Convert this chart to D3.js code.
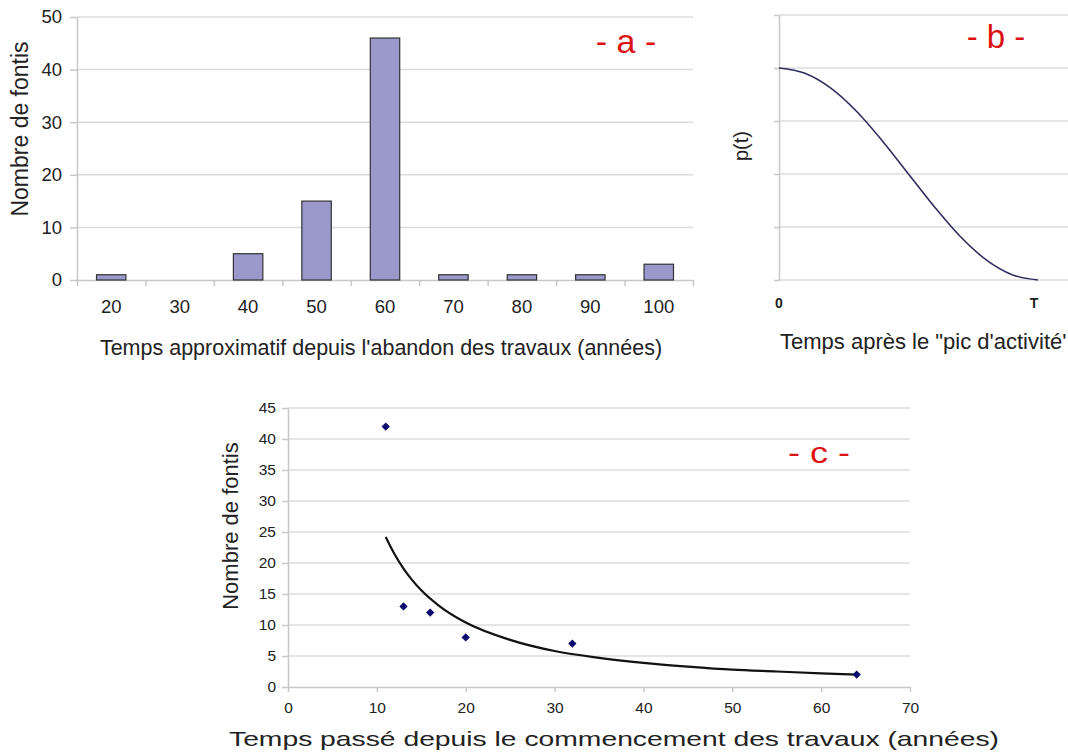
<!DOCTYPE html>
<html><head><meta charset="utf-8">
<script src="https://cdn.jsdelivr.net/npm/d3@7"></script>
<style>
body{margin:0;background:#fff;}
svg{display:block;font-family:"Liberation Sans",Arial,sans-serif;}
</style></head>
<body><svg id="c" width="1068" height="754"></svg>
<script>
// ---- Panel a data ----
const catsA = ["20","30","40","50","60","70","80","90","100"];
const valsA = [1,0,5,15,46,1,1,1,3];
const yTicksA = [0,10,20,30,40,50];
// ---- Panel b data ----
const tB = [0,0.1,0.2,0.3,0.4,0.5,0.6,0.7,0.8,0.9,1.0];
const pB = [4.0,3.9,3.62,3.18,2.62,2.0,1.38,0.82,0.38,0.1,0.0];
const yGridB = [0,1,2,3,4,5];
const xLabelsB = ["0","T"];
// ---- Panel c data ----
const ptsCx = [11,13,16,20,32,64];
const ptsCy = [42,13,12,8,7,2];
const fitCx = [11,12,13,14,15,17,20,25,30,35,40,45,50,55,60,64];
const fitCy = [24.2,21.4,19.1,17.2,15.6,13.1,10.4,7.6,5.8,4.7,3.9,3.3,2.8,2.5,2.2,2.0];
const xTicksC = [0,10,20,30,40,50,60,70];
const yTicksC = [0,5,10,15,20,25,30,35,40,45];

const svg = d3.select("#c");
svg.append("rect").attr("width",1068).attr("height",754).attr("fill","#fff");
const GRID="#dcdcdc", AX="#c8c8c8";

function styleAxis(g){
  g.selectAll("path.domain").attr("stroke",AX).attr("stroke-width",1.5);
  g.selectAll(".tick line").attr("stroke",AX).attr("stroke-width",1.5);
  g.selectAll("text").attr("fill","#222").attr("font-family","Liberation Sans, Arial, sans-serif");
}

// ================= Panel a =================
{
  const x0=77,x1=693,yb=280,yt=17;
  const x = d3.scaleBand().domain(catsA).range([x0,x1]).paddingInner(0.57).paddingOuter(0.285);
  const y = d3.scaleLinear().domain([0,50]).range([yb,yt]);
  const g = svg.append("g");
  g.selectAll("line.grid").data(yTicksA.slice(1)).join("line")
    .attr("x1",x0).attr("x2",x1).attr("y1",d=>y(d)).attr("y2",d=>y(d))
    .attr("stroke",GRID).attr("stroke-width",1.5);
  const ya = g.append("g").attr("transform",`translate(${x0},0)`)
    .call(d3.axisLeft(y).tickValues(yTicksA).tickSize(7).tickPadding(8).tickSizeOuter(0));
  styleAxis(ya); ya.selectAll("text").attr("font-size",18.5);
  const bnd = d3.scaleLinear().domain([0,catsA.length]).range([x0,x1]);
  const xb = g.append("g").attr("transform",`translate(0,${yb})`)
    .call(d3.axisBottom(bnd).tickValues(d3.range(catsA.length+1)).tickFormat("").tickSize(6).tickSizeOuter(0));
  styleAxis(xb);
  const xl = g.append("g").attr("transform",`translate(0,${yb})`)
    .call(d3.axisBottom(x).tickSize(0).tickPadding(20));
  xl.select("path.domain").remove();
  xl.selectAll("text").attr("font-size",18.5).attr("fill","#222");
  g.selectAll("rect.bar").data(catsA.map((c,i)=>({c,v:valsA[i]})).filter(d=>d.v>0)).join("rect")
    .attr("x",d=>x(d.c)).attr("width",x.bandwidth())
    .attr("y",d=>y(d.v)).attr("height",d=>y(0)-y(d.v))
    .attr("fill","#9b98cc").attr("stroke","#333").attr("stroke-width",1.2);
  g.append("text").attr("transform","translate(28,129) rotate(-90)").attr("text-anchor","middle")
    .attr("font-size",23).attr("fill","#222").text("Nombre de fontis");
  g.append("text").attr("x",381).attr("y",355).attr("text-anchor","middle")
    .attr("font-size",21.5).attr("fill","#222").text("Temps approximatif depuis l'abandon des travaux (années)");
  g.append("text").attr("x",626).attr("y",53).attr("text-anchor","middle")
    .attr("font-size",34).attr("fill","#dd1111").text("- a -");
}

// ================= Panel b =================
{
  const x0=779,xr=1068,yb=280,yt=15;
  const x = d3.scaleLinear().domain([0,1]).range([x0,1038]);
  const y = d3.scaleLinear().domain([0,5]).range([yb,yt]);
  const g = svg.append("g");
  g.selectAll("line.grid").data(yGridB).join("line")
    .attr("x1",x0).attr("x2",xr).attr("y1",d=>y(d)).attr("y2",d=>y(d))
    .attr("stroke",GRID).attr("stroke-width",1.5);
  const ya = g.append("g").attr("transform",`translate(${x0},0)`)
    .call(d3.axisLeft(y).tickValues(yGridB).tickFormat("").tickSize(5).tickSizeOuter(0));
  styleAxis(ya);
  const line = d3.line().x((d,i)=>x(tB[i])).y(d=>y(d)).curve(d3.curveMonotoneX);
  g.append("path").datum(pB).attr("d",line).attr("fill","none")
    .attr("stroke","#2e2e5e").attr("stroke-width",1.6);
  g.selectAll("text.xl").data(xLabelsB).join("text")
    .attr("x",(d,i)=>x(i)-(i?4:0)).attr("y",308).attr("text-anchor","middle")
    .attr("font-size",14).attr("font-weight","bold").attr("fill","#222").text(d=>d);
  g.append("text").attr("transform","translate(748,146) rotate(-90)").attr("text-anchor","middle")
    .attr("font-size",20).attr("fill","#222").text("p(t)");
  g.append("text").attr("x",780).attr("y",349).attr("text-anchor","start")
    .attr("font-size",22).attr("fill","#222").text("Temps après le \"pic d'activité'");
  g.append("text").attr("x",996).attr("y",48).attr("text-anchor","middle")
    .attr("font-size",33).attr("fill","#dd1111").text("- b -");
}

// ================= Panel c =================
{
  const x0=288,x1=910,yb=687,yt=408;
  const x = d3.scaleLinear().domain([0,70]).range([x0,x1]);
  const y = d3.scaleLinear().domain([0,45]).range([yb,yt]);
  const g = svg.append("g");
  g.selectAll("line.grid").data(yTicksC.slice(1)).join("line")
    .attr("x1",x0).attr("x2",x1).attr("y1",d=>y(d)).attr("y2",d=>y(d))
    .attr("stroke",GRID).attr("stroke-width",1.5);
  const ya = g.append("g").attr("transform",`translate(${x0},0)`)
    .call(d3.axisLeft(y).tickValues(yTicksC).tickSize(6).tickPadding(6).tickSizeOuter(0));
  styleAxis(ya); ya.selectAll("text").attr("font-size",15.5);
  const xa = g.append("g").attr("transform",`translate(0,${yb})`)
    .call(d3.axisBottom(x).tickValues(xTicksC).tickSize(5).tickPadding(10).tickSizeOuter(0));
  styleAxis(xa); xa.selectAll("text").attr("font-size",15.5);
  const line = d3.line().x((d,i)=>x(fitCx[i])).y(d=>y(d)).curve(d3.curveMonotoneX);
  g.append("path").datum(fitCy).attr("d",line).attr("fill","none")
    .attr("stroke","#111").attr("stroke-width",2.2);
  g.selectAll("path.pt").data(ptsCx.map((v,i)=>[v,ptsCy[i]])).join("path")
    .attr("transform",d=>`translate(${x(d[0])},${y(d[1])})`)
    .attr("d",d3.symbol(d3.symbolDiamond2,44))
    .attr("fill","#0a0a6e");
  g.append("text").attr("transform","translate(238,526) rotate(-90)").attr("text-anchor","middle")
    .attr("font-size",22).attr("fill","#222").text("Nombre de fontis");
  g.append("text").attr("x",614).attr("y",746).attr("text-anchor","middle")
    .attr("font-size",21).attr("textLength",770).attr("lengthAdjust","spacingAndGlyphs")
    .attr("fill","#222").text("Temps passé depuis le commencement des travaux (années)");
  g.append("text").attr("x",819).attr("y",463).attr("text-anchor","middle")
    .attr("font-size",30).attr("textLength",62).attr("lengthAdjust","spacingAndGlyphs")
    .attr("fill","#dd1111").text("- c -");
}
</script></body></html>
